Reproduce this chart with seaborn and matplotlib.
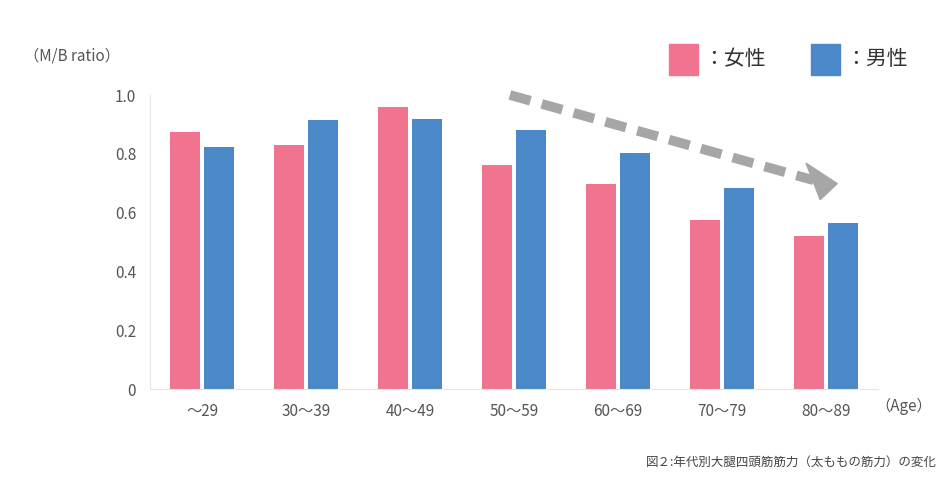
import matplotlib
matplotlib.use("Agg")
import matplotlib.pyplot as plt
import pandas as pd
import seaborn as sns
from matplotlib.patches import Polygon, Rectangle

plt.rcParams["font.family"] = "Noto Sans CJK JP"

age_groups = ["～29", "30～39", "40～49", "50～59", "60～69", "70～79", "80～89"]
female = [0.874, 0.830, 0.959, 0.762, 0.697, 0.575, 0.520]
male = [0.823, 0.915, 0.918, 0.881, 0.803, 0.684, 0.565]
sex_labels = ["女性", "男性"]
colors = {"女性": "#F07490", "男性": "#4A88C7"}

df = pd.DataFrame({
    "age": age_groups * 2,
    "ratio": female + male,
    "sex": [sex_labels[0]] * len(age_groups) + [sex_labels[1]] * len(age_groups),
})

fig = plt.figure(figsize=(9.46, 4.87), dpi=100)
ax = fig.add_axes([0.1586, 0.2012, 0.7696, 0.6037])
sns.barplot(data=df, x="age", y="ratio", hue="sex", palette=colors,
            width=0.66, gap=0.12, legend=False, ax=ax, saturation=1)

ax.set_ylim(0, 1.0)
ax.set_xlim(-0.5, 6.5)
ax.set_yticks([0, 0.2, 0.4, 0.6, 0.8, 1.0])
ax.set_yticklabels(["0", "0.2", "0.4", "0.6", "0.8", "1.0"])
ax.set_xlabel("")
ax.set_ylabel("")
ax.tick_params(length=0, colors="#555555", labelsize=11, pad=10)
for s in ["top", "right"]:
    ax.spines[s].set_visible(False)
for s in ["left", "bottom"]:
    ax.spines[s].set_color("#E6E6E6")

tc = "#555555"
fig.text(0.025, 0.885, "（M/B ratio）", fontsize=11, color=tc, va="center")
fig.text(0.925, 0.165, "（Age）", fontsize=11, color=tc, va="center")
fig.text(0.99, 0.05, "図２:年代別大腿四頭筋筋力（太ももの筋力）の変化",
         fontsize=9, color="#444444", ha="right", va="center")

# legend
for x0, lab in [(0.707, sex_labels[0]), (0.857, sex_labels[1])]:
    fig.patches.append(Rectangle((x0, 0.845), 0.031, 0.065, transform=fig.transFigure,
                                 color=colors[lab]))
    fig.text(x0 + 0.036, 0.878, "：" + lab, fontsize=15, color="#333333", va="center")

# trend arrow
fig.add_artist(plt.Line2D([0.539, 0.860], [0.805, 0.630], transform=fig.transFigure,
                          color="#A6A6A6", lw=7, linestyle=(0, (2.2, 1.2))))
fig.patches.append(Polygon([[0.885, 0.623], [0.852, 0.665], [0.867, 0.590]],
                           closed=True, transform=fig.transFigure, color="#A6A6A6"))

fig.savefig("out.png", dpi=100, facecolor="white")
